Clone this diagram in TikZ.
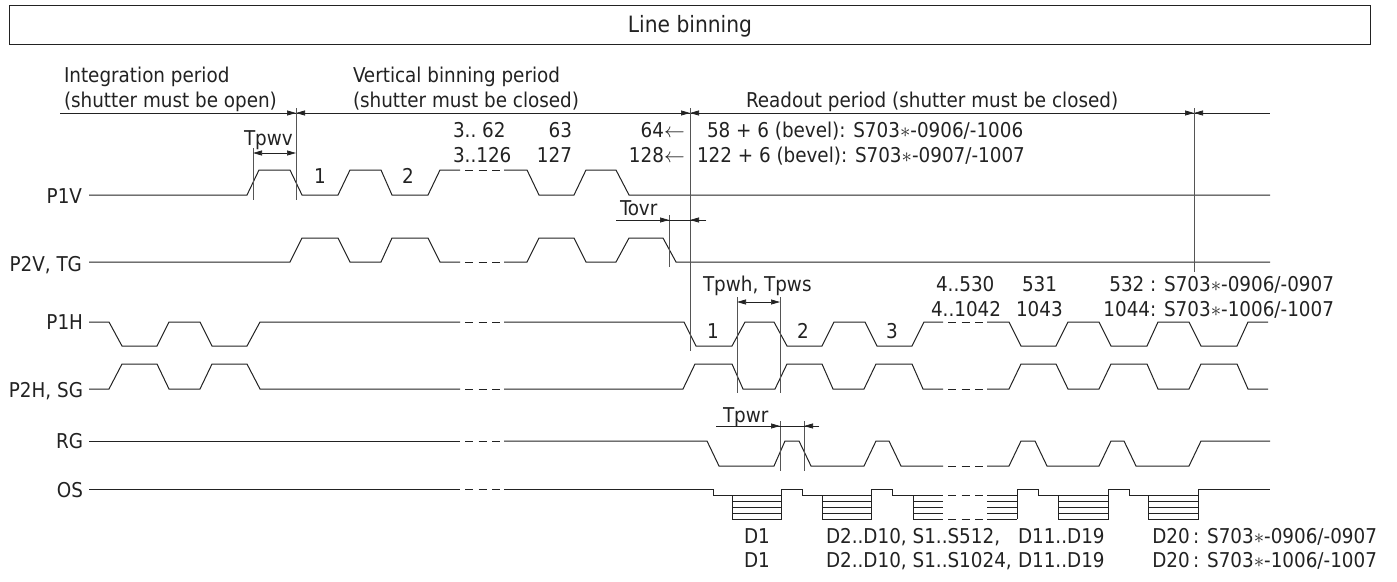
\documentclass[tikz,border=0pt]{standalone}
\usepackage{fontspec}
\setmainfont{DejaVu Sans Condensed}
\usetikzlibrary{arrows.meta}
\definecolor{inkgray}{HTML}{222222}
\definecolor{tickgray}{HTML}{555555}
\tikzset{
    wave/.style={draw=inkgray, line width=1pt, line join=miter},
    gapdash/.style={draw=inkgray, line width=1pt, dash pattern=on 8pt off 5.5pt},
    tickline/.style={draw=tickgray, line width=1pt},
    dimline/.style={draw=inkgray, line width=0.7pt},
    dimtip/.style={-{Stealth[length=9pt,width=5pt,inset=0pt]}, draw=inkgray, fill=inkgray, line width=0.7pt},
    txt/.style={anchor=base west, inner sep=0pt, outer sep=0pt, text=inkgray, font=\fontsize{20.4}{24}\selectfont},
    txtr/.style={txt, anchor=base east},
    txtc/.style={txt, anchor=base},
}
\newcommand{\sast}{$\ast$}
\begin{document}
\begin{tikzpicture}[x=1pt, y=-1pt]
    \useasboundingbox (0,0) rectangle (1397,581);
    % Title
    \draw[wave] (9,5) rectangle (1370,44);
    \node[txtc, font=\fontsize{22.5}{24}\selectfont] (title) at (690,32) {Line binning};

    % Periods
    \node[txt] (integ) at (64,82) {Integration period};
    \node[txt] (integb) at (64,107) {(shutter must be open)};
    \node[txt] (vert) at (353,82) {Vertical binning period};
    \node[txt] (vertb) at (353,107) {(shutter must be closed)};
    \node[txt] (read) at (746,107) {Readout period (shutter must be closed)};
    \draw[dimline] (60,113) -- (1270,113);
    \foreach \x in {296, 690, 1194} {
        \draw[dimtip] (\x-12,113) -- (\x,113);
        \draw[dimtip] (\x+18,113) -- (\x,113);
    }

    % Signal names
    \node[txtr] (p1v) at (82,203) {P1V};
    \node[txtr] (p2v) at (82,271) {P2V, TG};
    \node[txtr] (p1h) at (83,329) {P1H};
    \node[txtr] (p2h) at (83,397) {P2H, SG};
    \node[txtr] (rg) at (83,448) {RG};
    \node[txtr] (os) at (83,497) {OS};

    % Vertical clocks
    \draw[wave] (89,195) -- (247,195) -- (259,170) -- (290,170) -- (302,195) -- (338,195) -- (350,170) -- (381,170) -- (392,195) -- (428,195) -- (440,170) -- (460,170);
    \draw[wave] (504,170) -- (527,170) -- (539,195) -- (574,195) -- (586,170) -- (616,170) -- (629,195) -- (1270,195);
    \draw[wave] (89,262) -- (290,262) -- (302,238) -- (338,238) -- (350,262) -- (381,262) -- (392,238) -- (428,238) -- (440,262) -- (460,262);
    \draw[wave] (504,262) -- (527,262) -- (539,238) -- (574,238) -- (586,262) -- (616,262) -- (629,238) -- (663,238) -- (676,262) -- (1270,262);

    % Horizontal clocks
    \draw[wave] (89,322) -- (109,322) -- (122,346) -- (157,346) -- (169,322) -- (200,322) -- (212,346) -- (247,346) -- (260,322) -- (460,322);
    \draw[wave] (504,322) -- (684,322) -- (696,346) -- (732,346) -- (745,322) -- (774,322) -- (787,346) -- (822,346) -- (834,322) -- (865,322) -- (877,346) -- (912,346) -- (924,322) -- (943,322);
    \draw[wave] (987,322) -- (1009,322) -- (1021,346) -- (1056,346) -- (1068,322) -- (1099,322) -- (1111,346) -- (1147,346) -- (1158,322) -- (1189,322) -- (1201,346) -- (1237,346) -- (1248,322) -- (1268,322);
    \draw[wave] (89,389) -- (109,389) -- (122,364) -- (157,364) -- (169,389) -- (200,389) -- (212,364) -- (247,364) -- (260,389) -- (460,389);
    \draw[wave] (504,389) -- (683,389) -- (695,364) -- (732,364) -- (743,389) -- (775,389) -- (787,364) -- (822,364) -- (833,389) -- (864,389) -- (876,364) -- (912,364) -- (923,389) -- (943,389);
    \draw[wave] (987,389) -- (1009,389) -- (1021,364) -- (1056,364) -- (1068,389) -- (1099,389) -- (1111,364) -- (1147,364) -- (1158,389) -- (1189,389) -- (1201,364) -- (1237,364) -- (1248,389) -- (1268,389);

    % RG
    \draw[wave] (89,441) -- (460,441);
    \draw[wave] (504,441) -- (707,441) -- (719,466) -- (774,466) -- (785,441) -- (799,441) -- (811,466) -- (864,466) -- (876,441) -- (889,441) -- (901,466) -- (943,466);
    \draw[wave] (987,466) -- (1009,466) -- (1021,441) -- (1035,441) -- (1047,466) -- (1099,466) -- (1111,441) -- (1124,441) -- (1136,466) -- (1189,466) -- (1201,441) -- (1270,441);

    % OS
    \draw[wave] (89,489) -- (460,489);
    \draw[wave] (504,489) -- (713,489) -- (713,495) -- (732,495);
    \draw[wave] (781,495) -- (781,489) -- (802,489) -- (802,495) -- (822,495);
    \draw[wave] (871,495) -- (871,489) -- (892,489) -- (892,495) -- (913,495);
    \draw[wave] (1017,495) -- (1017,489) -- (1038,489) -- (1038,495) -- (1058,495);
    \draw[wave] (1108,495) -- (1108,489) -- (1129,489) -- (1129,495) -- (1148,495);
    \draw[wave] (1198,495) -- (1198,489) -- (1270,489);
    \foreach \a/\b in {732/781, 822/871, 1058/1108, 1148/1198} {
        \draw[wave] (\a,495) rectangle (\b,519);
        \foreach \y in {501, 507, 513} \draw[dimline] (\a,\y) -- (\b,\y);
    }
    \foreach \y in {495, 519} {
        \draw[wave] (913,\y) -- (943,\y);
        \draw[wave] (987,\y) -- (1017,\y);
    }
    \foreach \y in {501, 507, 513} {
        \draw[dimline] (913,\y) -- (943,\y);
        \draw[dimline] (987,\y) -- (1017,\y);
    }
    \draw[wave] (913,495) -- (913,519);
    \draw[wave] (1017,495) -- (1017,519);

    % Omitted stretches
    \foreach \y in {170, 262, 322, 389, 441, 489} {
        \draw[gapdash] (465,\y) -- (500,\y);
    }
    \foreach \y in {322, 389, 466, 495, 519} {
        \draw[gapdash] (948,\y) -- (983,\y);
    }

    % Time marks
    \draw[tickline] (296,108) -- (296,200);
    \draw[tickline] (253,148) -- (253,200);
    \draw[tickline] (690,108) -- (690,351);
    \draw[tickline] (1194,108) -- (1194,272);
    \draw[tickline] (669,215) -- (669,267);
    \draw[tickline] (737,297) -- (737,393);
    \draw[tickline] (780,297) -- (780,393);
    \draw[tickline] (780,421) -- (780,471);
    \draw[tickline] (804,421) -- (804,471);

    % Widths
    \node[txt] (tpwv) at (244,145) {Tpwv};
    \draw[dimtip] (275,153) -- (253,153);
    \draw[dimtip] (274,153) -- (296,153);
    \node[txt] (tovr) at (620,215) {Tovr};
    \draw[dimline] (616,220) -- (706,220);
    \draw[dimtip] (650,220) -- (669,220);
    \draw[dimtip] (706,220) -- (690,220);
    \node[txt] (tpwh) at (703,291) {Tpwh, Tpws};
    \draw[dimtip] (759,302) -- (737,302);
    \draw[dimtip] (758,302) -- (780,302);
    \node[txt] (tpwr) at (723,422) {Tpwr};
    \draw[dimline] (716,426) -- (819,426);
    \draw[dimtip] (760,426) -- (780,426);
    \draw[dimtip] (819,426) -- (804,426);

    % Line counts
    \node[txt] (va) at (453,137) {3..\ 62};
    \node[txtr] (vb) at (572,137) {63};
    \node[txtr] (vc) at (664,137) {64};
    \node[txt] (vd) at (664,137) {$\leftarrow$};
    \node[txt] (ve) at (707,137) {58 + 6 (bevel): S703\sast-0906/-1006};
    \node[txt] (vf) at (453,162) {3..126};
    \node[txtr] (vg) at (572,162) {127};
    \node[txtr] (vh) at (664,162) {128};
    \node[txt] (vi) at (664,162) {$\leftarrow$};
    \node[txt] (vj) at (697,162) {122 + 6 (bevel): S703\sast-0907/-1007};
    \node[txtc] (vone) at (320,183) {1};
    \node[txtc] (vtwo) at (408,183) {2};

    \node[txt] (ha) at (936,291) {4..530};
    \node[txt] (hb) at (1022,291) {531};
    \node[txtr] (hc) at (1334,291) {532 : S703\sast-0906/-0907};
    \node[txt] (hd) at (931,316) {4..1042};
    \node[txt] (he) at (1016,316) {1043};
    \node[txtr] (hf) at (1334,316) {1044: S703\sast-1006/-1007};
    \node[txtc] (hone) at (713,338) {1};
    \node[txtc] (htwo) at (803,338) {2};
    \node[txtc] (hthree) at (892,338) {3};

    % Output data
    \node[txt] (da) at (744,543) {D1};
    \node[txt] (db) at (826,543) {D2..D10, S1..S512,};
    \node[txt] (dc) at (1018,543) {D11..D19};
    \node[txtr] (dd) at (1377,543) {D20\,: S703\sast-0906/-0907};
    \node[txt] (de) at (744,567) {D1};
    \node[txt] (df) at (826,567) {D2..D10, S1..S1024,};
    \node[txt] (dg) at (1018,567) {D11..D19};
    \node[txtr] (dh) at (1377,567) {D20\,: S703\sast-1006/-1007};
\end{tikzpicture}
\end{document}
